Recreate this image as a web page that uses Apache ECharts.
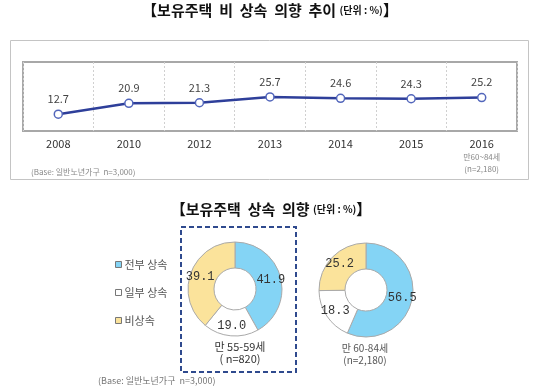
<!DOCTYPE html>
<html><head><meta charset="utf-8">
<script src="https://cdn.jsdelivr.net/npm/echarts@6/dist/echarts.min.js"></script>
<style>html,body{margin:0;padding:0;background:#fff}#c{width:540px;height:391px}</style>
</head><body><div id="c"></div>
<script>
var years = ['2008','2010','2012','2013','2014','2015','2016'];
var nonInheritRate = [12.7, 20.9, 21.3, 25.7, 24.6, 24.3, 25.2];
var pieNames = ['전부 상속','일부 상속','비상속'];
var pie5559 = [41.9, 19.0, 39.1];
var pie6084 = [56.5, 18.3, 25.2];
var pieColors = ['#84d4f5', '#ffffff', '#fbe39b'];

var KR = '"Noto Sans CJK KR","Noto Sans",sans-serif';
var MONO = '"Liberation Mono","DejaVu Sans Mono",monospace';

function pieData(vals){
  return vals.map(function(v,i){return {name: pieNames[i], value: v, itemStyle:{color: pieColors[i]}};});
}
function pieSeries(vals, center){
  return {
    type:'pie', center: center, radius:[21,47], startAngle:90, clockwise:true,
    avoidLabelOverlap:false, animation:false,
    itemStyle:{borderColor:'#a9a9a9', borderWidth:1},
    label:{show:true, position:'inside', fontFamily:MONO, fontSize:12, color:'#333',
      formatter:function(p){return p.value.toFixed(1);}},
    labelLine:{show:false},
    emphasis:{disabled:true},
    data: pieData(vals)
  };
}

var chart = echarts.init(document.getElementById('c'), null, {renderer:'canvas'});
chart.setOption({
  animation:false,
  grid:{left:23, top:62, width:494, height:69, show:true, borderColor:'#a8a8a8', borderWidth:2, backgroundColor:'#fff'},
  xAxis:{type:'category', data:years, boundaryGap:true,
    axisLine:{show:false}, axisTick:{show:false},
    splitLine:{show:true, lineStyle:{color:'#d0d0d0', type:[2,2], width:1}},
    axisLabel:{margin:6, fontFamily:KR, fontSize:11, color:'#333', interval:0,
      formatter:function(v){ return v==='2016' ? '{m|2016}\n{s|만60~84세}\n{s|(n=2,180)}' : '{m|'+v+'}'; },
      rich:{m:{fontSize:11, color:'#333', lineHeight:14, fontFamily:KR},
            s:{fontSize:8, color:'#888', lineHeight:12, fontFamily:KR}}}
  },
  yAxis:{type:'value', min:0, max:52, show:false, splitLine:{show:false}},
  legend:{orient:'vertical', left:110, top:254, itemWidth:6, itemHeight:6, itemGap:17,
    icon:'rect', data:pieNames, selectedMode:false,
    itemStyle:{borderColor:'#777', borderWidth:1},
    textStyle:{fontFamily:KR, fontSize:11, color:'#555', padding:[0,0,0,-2]}},
  series:[
    {type:'line', data:nonInheritRate, symbol:'circle', symbolSize:8,
      lineStyle:{color:'#2e3f9a', width:2.5},
      itemStyle:{color:'#fff', borderColor:'#5266bb', borderWidth:1.5},
      label:{show:true, position:'top', distance:5, fontFamily:KR, fontSize:11, color:'#444'},
      emphasis:{disabled:true}},
    pieSeries(pie5559, [235, 289]),
    pieSeries(pie6084, [366, 290])
  ],
  graphic:[
    {type:'rect', z:-10, shape:{x:10.5, y:40.5, width:518, height:139}, style:{fill:'none', stroke:'#c4c4c4', lineWidth:1}},
    {type:'text', x:270, y:3, style:{text:'{a|【보유주택  비  상속  의향  추이} {b|(단위 : %)}{a|】}', align:'center',
      rich:{a:{fontFamily:KR, fontSize:15, fontWeight:'bold', fill:'#111'}, b:{fontFamily:KR, fontSize:10, fontWeight:'bold', fill:'#111'}}}},
    {type:'text', left:31, top:168, style:{text:'(Base: 일반노년가구  n=3,000)', fontFamily:KR, fontSize:8, fill:'#888'}},
    {type:'text', x:271, y:202, style:{text:'{a|【보유주택  상속  의향} {b|(단위 : %)}{a|】}', align:'center',
      rich:{a:{fontFamily:KR, fontSize:15, fontWeight:'bold', fill:'#111'}, b:{fontFamily:KR, fontSize:10, fontWeight:'bold', fill:'#111'}}}},
    {type:'rect', shape:{x:181, y:227, width:115, height:145}, style:{fill:'none', stroke:'#2f4a8e', lineWidth:2, lineDash:[5,3]}},
    {type:'text', x:240, y:341, style:{text:'만 55-59세\n( n=820)', align:'center', fontFamily:KR, fontSize:11, lineHeight:12, fill:'#333'}},
    {type:'text', x:365, y:342, style:{text:'만 60-84세\n(n=2,180)', align:'center', fontFamily:KR, fontSize:10, lineHeight:12, fill:'#555'}},
    {type:'text', left:98, top:376, style:{text:'(Base: 일반노년가구  n=3,000)', fontFamily:KR, fontSize:9, fill:'#777'}}
  ]
});
</script></body></html>
